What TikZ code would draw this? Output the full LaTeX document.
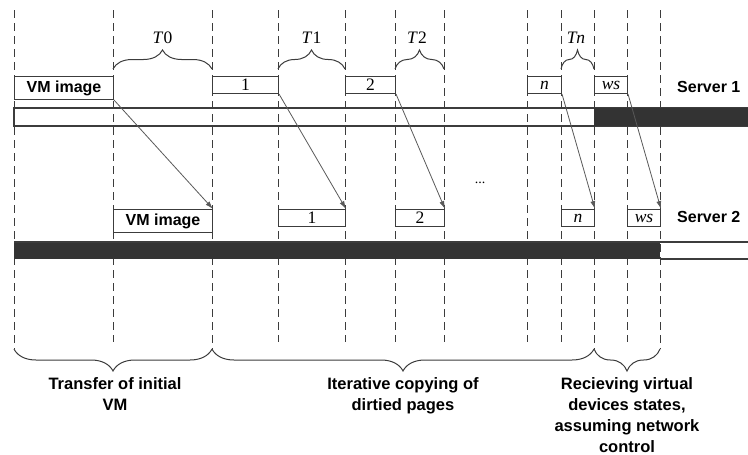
\documentclass[tikz,border=0pt]{standalone}
\usepackage{fontspec}
\setmainfont{Liberation Serif}
\newfontfamily\arialf{Liberation Sans}
\usetikzlibrary{decorations.pathreplacing,arrows.meta}
\definecolor{ink}{HTML}{3C3C3C}
\definecolor{barfill}{HTML}{333333}
\begin{document}
\begin{tikzpicture}[x=1pt,y=-1pt,
  guide/.style={draw=ink, line width=1pt, dash pattern=on 8pt off 5pt},
  pagebox/.style={draw=ink, line width=1pt, fill=white, inner sep=0pt, anchor=north west,
    font=\fontsize{17.5}{18}\selectfont},
  vmbox/.style={pagebox, minimum height=23pt, font=\arialf\bfseries\fontsize{16}{18}\selectfont},
  smallbox/.style={pagebox, minimum height=17pt},
  bartop/.style={draw=ink, line width=1.2pt},
  brtop/.style={decorate, decoration={brace, amplitude=19pt}, draw=ink, line width=1pt},
  brbot/.style={decorate, decoration={brace, amplitude=22pt}, draw=ink, line width=1pt},
  tlabel/.style={font=\fontsize{17.5}{18}\selectfont, inner sep=0pt},
  srv/.style={font=\arialf\bfseries\fontsize{16}{18}\selectfont, anchor=west, inner sep=0pt},
  phase/.style={font=\arialf\bfseries\fontsize{16.5}{21}\selectfont, align=center, anchor=north, inner sep=0pt},
  arr/.style={draw=ink!85, line width=0.8pt, -{Latex[length=8pt,width=5pt]}}
]
\useasboundingbox (0,0) rectangle (748,455);

% dashed guide lines
\foreach \x in {113,278,345,395,444,527,561,627}
  \draw[guide] (\x,10) -- (\x,342);
\foreach \x in {14,212,594,660}
  \draw[guide] (\x,10) -- (\x,349);

% server bars
\draw[bartop] (748,108) -- (14,108) -- (14,126) -- (748,126);
\fill[barfill] (594,108) rectangle (748,126);
\fill[barfill] (14,242) rectangle (660,259);
\draw[bartop] (660,242) -- (748,242);
\draw[bartop] (660,259) -- (748,259);
\draw[bartop] (14,242) -- (660,242);

% server 1 pages
\node[vmbox, minimum width=99pt] (vma) at (14,76) {VM image};
\node[smallbox, minimum width=66pt] (p1a) at (212,76) {1};
\node[smallbox, minimum width=50pt] (p2a) at (345,76) {2};
\node[smallbox, minimum width=34pt] (pna) at (527,76) {\textit{n}};
\node[smallbox, minimum width=33pt] (wsa) at (594,76) {\textit{ws}};

% server 2 pages
\node[vmbox, minimum width=99pt] (vmb) at (113,209) {VM image};
\node[smallbox, minimum width=67pt] (p1b) at (278,209) {1};
\node[smallbox, minimum width=49pt] (p2b) at (395,209) {2};
\node[smallbox, minimum width=33pt] (pnb) at (561,209) {\textit{n}};
\node[smallbox, minimum width=33pt] (wsb) at (627,209) {\textit{ws}};

% transfers
\draw[arr] (vma.south east) -- (vmb.north east);
\draw[arr] (p1a.south east) -- (p1b.north east);
\draw[arr] (p2a.south east) -- (p2b.north east);
\draw[arr] (pna.south east) -- (pnb.north east);
\draw[arr] (wsa.south east) -- (wsb.north east);

% top braces
\draw[brtop] (113,69) -- (212,69);
\draw[brtop] (278,69) -- (345,69);
\draw[brtop] (395,69) -- (444,69);
\draw[brtop] (561,69) -- (594,69);
\node[tlabel] (t0) at (162.5,38) {\textit{T}0};
\node[tlabel] (t1) at (311.5,38) {\textit{T}1};
\node[tlabel] (t2) at (417,38) {\textit{T}2};
\node[tlabel] (tn) at (576,38) {\textit{Tn}};

% server labels
\node[srv] (s1) at (677,87) {Server 1};
\node[srv] (s2) at (677,217) {Server 2};
\node[font=\fontsize{14}{15}\selectfont, inner sep=0pt] (dots) at (480,183) {...};

% bottom braces
\draw[brbot] (212,349) -- (14,349);
\draw[brbot] (594,349) -- (212,349);
\draw[brbot] (660,349) -- (594,349);
\node[phase] (ph1) at (115,377) {Transfer of initial\\VM};
\node[phase] (ph2) at (403,377) {Iterative copying of\\dirtied pages};
\node[phase] (ph3) at (627,377) {Recieving virtual\\devices states,\\assuming network\\control};
\end{tikzpicture}
\end{document}
